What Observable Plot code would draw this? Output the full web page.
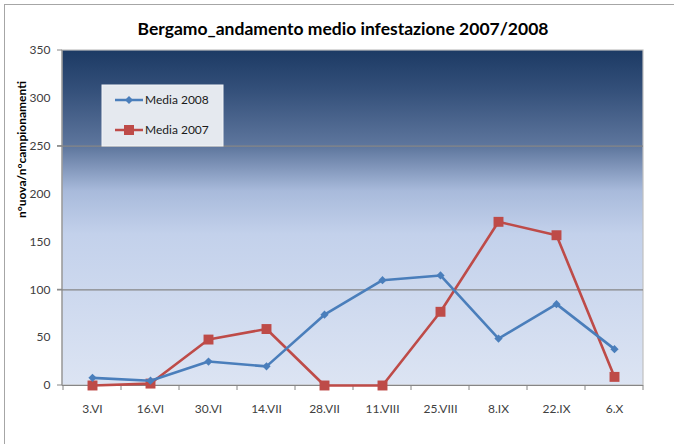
<!DOCTYPE html>
<html>
<head>
<meta charset="utf-8">
<script src="https://cdn.jsdelivr.net/npm/d3@7"></script>
<script src="https://cdn.jsdelivr.net/npm/@observablehq/plot@0.6"></script>
<style>
  html, body { margin: 0; padding: 0; background: #fff; }
  #chart { width: 674px; height: 444px; }
</style>
</head>
<body>
<div id="chart"></div>
<script>
const dates = ["3.VI","16.VI","30.VI","14.VII","28.VII","11.VIII","25.VIII","8.IX","22.IX","6.X"];
const media2008 = [8, 5, 25, 20, 74, 110, 115, 49, 85, 38];
const media2007 = [0, 2, 48, 59, 0, 0, 77, 171, 157, 9];
const yTicks = [0, 50, 100, 150, 200, 250, 300, 350];
const gridValues = [100, 250];
const seriesNames = ["Media 2008", "Media 2007"];
const titleText = "Bergamo_andamento medio infestazione 2007/2008";
const yLabel = "n°uova/n°campionamenti";

const BLUE = "#4a7ebb", RED = "#be4b48";
const FONT = "Lato, 'Open Sans', sans-serif";

const d2008 = dates.map((d, i) => ({date: d, value: media2008[i]}));
const d2007 = dates.map((d, i) => ({date: d, value: media2007[i]}));

const svgNS = "http://www.w3.org/2000/svg";
function el(name, attrs) {
  const e = document.createElementNS(svgNS, name);
  for (const k in attrs) e.setAttribute(k, attrs[k]);
  return e;
}

// background gradient + outer frame
function background(index, scales, values, dims) {
  const g = el("g", {});
  const defs = el("defs", {});
  const lg = el("linearGradient", {id: "bg", x1: 0, y1: 0, x2: 0, y2: 1});
  [[0, "#1c3a64"], [0.12, "#34507a"], [0.29, "#5f779e"], [0.42, "#a8badb"], [0.55, "#c3d1eb"], [1, "#dce4f3"]]
    .forEach(([o, c]) => lg.appendChild(el("stop", {offset: o, "stop-color": c})));
  defs.appendChild(lg);
  g.appendChild(defs);
  g.appendChild(el("rect", {x: 4.5, y: 4.5, width: 700, height: 500, fill: "none", stroke: "#a6a6a6", "stroke-width": 1}));
  const x0 = dims.marginLeft, x1 = dims.width - dims.marginRight;
  const y0 = dims.marginTop, y1 = dims.height - dims.marginBottom;
  g.appendChild(el("rect", {x: x0, y: y0, width: x1 - x0, height: y1 - y0, fill: "url(#bg)", stroke: "#c0c0c0", "stroke-width": 1.2}));
  return g;
}

// x boundary ticks + axis lines
function axesDecor(index, scales, values, dims) {
  const g = el("g", {stroke: "#868686", "stroke-width": 1});
  const x = scales.x, y = scales.y;
  const step = x(dates[1]) - x(dates[0]);
  const yb = y(0);
  for (let i = 0; i <= dates.length; i++) {
    const xp = (i < dates.length ? x(dates[i]) - step / 2 : x(dates[dates.length - 1]) + step / 2);
    g.appendChild(el("line", {x1: xp, x2: xp, y1: yb, y2: yb + 5}));
  }
  g.appendChild(el("line", {x1: dims.marginLeft, x2: dims.marginLeft, y1: y(350), y2: yb}));
  for (const v of [0, 100, 250, 350]) {
    g.appendChild(el("line", {x1: dims.marginLeft - 5, x2: dims.marginLeft, y1: y(v), y2: y(v)}));
  }
  return g;
}

function legend(index, scales, values, dims) {
  const g = el("g", {"font-family": FONT, "font-size": 12, "text-anchor": "start"});
  g.appendChild(el("rect", {x: 102, y: 85, width: 121, height: 61, fill: "#e5e9ef", stroke: "#f2f4f7", "stroke-width": 1}));
  const items = [[seriesNames[0], BLUE, 100, "diamond"], [seriesNames[1], RED, 130, "square"]];
  for (const [name, color, yy, sym] of items) {
    g.appendChild(el("line", {x1: 115, x2: 143, y1: yy, y2: yy, stroke: color, "stroke-width": 2.5}));
    if (sym === "diamond") g.appendChild(el("path", {d: `M129,${yy-4}L133,${yy}L129,${yy+4}L125,${yy}Z`, fill: color}));
    else g.appendChild(el("rect", {x: 124, y: yy - 5, width: 10, height: 10, fill: color}));
    const t = el("text", {x: 145, y: yy + 4, fill: "#1a1a1a", "text-anchor": "start"});
    t.textContent = name;
    g.appendChild(t);
  }
  return g;
}

const chart = Plot.plot({
  width: 674,
  height: 444,
  marginLeft: 62,
  marginRight: 31,
  marginTop: 50,
  marginBottom: 59,
  style: {fontFamily: FONT, fontSize: "12px", color: "#404040", background: "white", overflow: "visible"},
  x: {type: "point", domain: dates, padding: 0.5, label: null},
  y: {domain: [0, 350], label: null},
  marks: [
    background,
    Plot.ruleY(gridValues, {stroke: "#868686", strokeWidth: 1.2, insetLeft: -5}),
    Plot.ruleY([0], {stroke: "#868686", strokeWidth: 1.2}),
    axesDecor,
    Plot.axisX({ticks: dates, tickSize: 0, tickPadding: 19, fontSize: 12, fill: "#404040"}),
    Plot.axisY({ticks: yTicks, tickSize: 0, tickPadding: 12, fontSize: 12, fill: "#404040"}),
    Plot.line(d2007, {x: "date", y: "value", stroke: RED, strokeWidth: 2.6}),
    Plot.dot(d2007, {x: "date", y: "value", symbol: "square", r: 5.6, fill: RED, stroke: "none"}),
    Plot.line(d2008, {x: "date", y: "value", stroke: BLUE, strokeWidth: 2.6}),
    Plot.dot(d2008, {x: "date", y: "value", symbol: "diamond2", r: 3.7, fill: BLUE, stroke: "none"}),
    legend,
    Plot.text([titleText], {frameAnchor: "top", dx: -10, dy: -16, fontSize: 17.5, fontWeight: "bold", fill: "#000", lineAnchor: "bottom"}),
    Plot.text([yLabel], {frameAnchor: "left", dx: -40, rotate: -90, fontSize: 12, fontWeight: "bold", fill: "#000"})
  ]
});
document.getElementById("chart").appendChild(chart);
</script>
</body>
</html>
